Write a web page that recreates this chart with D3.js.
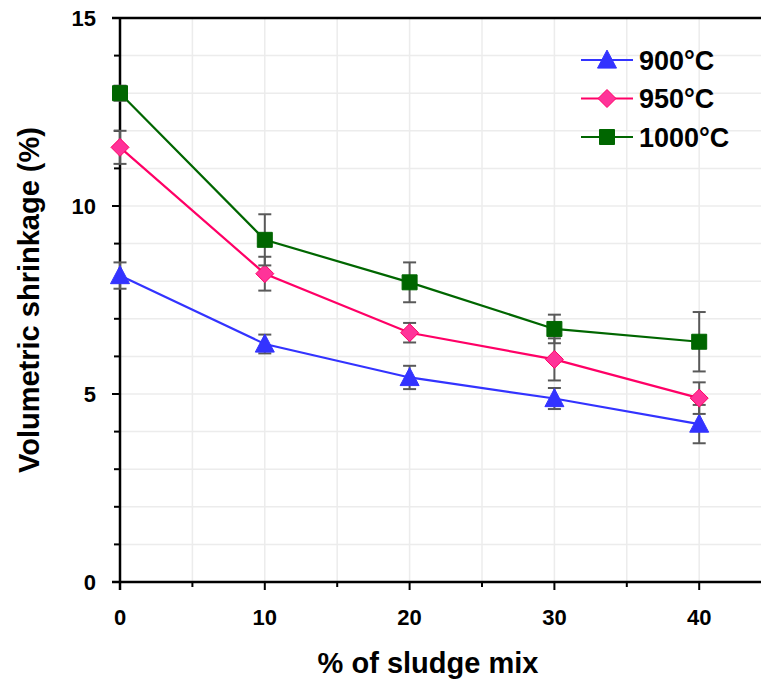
<!DOCTYPE html>
<html>
<head>
<meta charset="utf-8">
<script src="https://cdn.jsdelivr.net/npm/d3@7"></script>
<style>
  html, body { margin: 0; padding: 0; background: #fff; }
  svg { display: block; font-family: "Liberation Sans", Arial, sans-serif; font-weight: bold; }
</style>
</head>
<body>
<svg id="chart" width="761" height="681"></svg>
<script>
// Sludge content in the mix (%)
const sludge = [0, 10, 20, 30, 40];

// Volumetric shrinkage (%) and standard deviation per firing temperature
const shrink900 = [8.15, 6.33, 5.44, 4.88, 4.20];
const err900 = [0.35, 0.25, 0.31, 0.28, 0.51];
const shrink950 = [11.56, 8.20, 6.63, 5.92, 4.89];
const err950 = [0.44, 0.45, 0.26, 0.56, 0.42];
const shrink1000 = [13.00, 9.10, 7.97, 6.73, 6.39];
const err1000 = [0.20, 0.68, 0.53, 0.38, 0.79];

const seriesNames = ["900°C", "950°C", "1000°C"];
const xTicks = [0, 10, 20, 30, 40];
const yTicks = [0, 5, 10, 15];

const series = [
  { name: seriesNames[0], values: shrink900, errors: err900, line: "#3333ff", fill: "#3333ff", stroke: "#3333ff", shape: "triangle", size: 19 },
  { name: seriesNames[1], values: shrink950, errors: err950, line: "#ff0066", fill: "#ff3399", stroke: "#ff0066", shape: "diamond", size: 18 },
  { name: seriesNames[2], values: shrink1000, errors: err1000, line: "#006600", fill: "#006600", stroke: "#006600", shape: "square", size: 15 }
];

const svg = d3.select("#chart");

const x = d3.scaleLinear().domain([0, 45]).range([120, 771.6]);
const y = d3.scaleLinear().domain([0, 15]).range([582, 18]);

// Marker path builders centred on (0,0)
function markerPath(shape, s) {
  const h = s / 2;
  if (shape === "triangle") {
    const th = s * 0.95;
    return `M0,${-th * 0.55}L${h},${th * 0.45}L${-h},${th * 0.45}Z`;
  }
  if (shape === "diamond") {
    return `M0,${-h}L${h},0L0,${h}L${-h},0Z`;
  }
  return `M${-h},${-h}L${h},${-h}L${h},${h}L${-h},${h}Z`;
}

// Gridlines
const grid = svg.append("g");
grid.selectAll("line.hg")
  .data(d3.range(1, 15))
  .join("line")
  .attr("x1", x(0)).attr("x2", 761)
  .attr("y1", d => y(d)).attr("y2", d => y(d))
  .attr("stroke", "#ececec").attr("stroke-width", 1.5);
grid.selectAll("line.vg")
  .data(d3.range(5, 46, 5))
  .join("line")
  .attr("x1", d => x(d)).attr("x2", d => x(d))
  .attr("y1", y(0)).attr("y2", y(15))
  .attr("stroke", "#ececec").attr("stroke-width", 1.5);

// Axes
const axes = svg.append("g");
// y ticks (every 1, longer at multiples of 5)
axes.selectAll("line.yt")
  .data(d3.range(0, 16))
  .join("line")
  .attr("x1", d => x(0) - (d % 5 === 0 ? 8 : 6)).attr("x2", x(0))
  .attr("y1", d => y(d)).attr("y2", d => y(d))
  .attr("stroke", "#000").attr("stroke-width", 2);
// x ticks (every 5, longer at multiples of 10)
axes.selectAll("line.xt")
  .data(d3.range(0, 46, 5))
  .join("line")
  .attr("x1", d => x(d)).attr("x2", d => x(d))
  .attr("y1", y(0)).attr("y2", d => y(0) + (d % 10 === 0 ? 8 : 5))
  .attr("stroke", "#000").attr("stroke-width", 2);
// axis lines and top border
axes.append("line").attr("x1", x(0)).attr("x2", x(0)).attr("y1", y(15)).attr("y2", y(0) + 8)
  .attr("stroke", "#000").attr("stroke-width", 2.5);
axes.append("line").attr("x1", x(0) - 8).attr("x2", 761).attr("y1", y(0)).attr("y2", y(0))
  .attr("stroke", "#000").attr("stroke-width", 2.5);
axes.append("line").attr("x1", x(0) - 8).attr("x2", 761).attr("y1", y(15)).attr("y2", y(15))
  .attr("stroke", "#000").attr("stroke-width", 2.5);

// Tick labels
axes.selectAll("text.yl")
  .data(yTicks)
  .join("text")
  .attr("x", 96).attr("y", d => y(d)).attr("dy", "0.36em")
  .attr("text-anchor", "end").attr("font-size", 22).attr("fill", "#000")
  .text(d => d);
axes.selectAll("text.xl")
  .data(xTicks)
  .join("text")
  .attr("x", d => x(d)).attr("y", 625)
  .attr("text-anchor", "middle").attr("font-size", 22).attr("fill", "#000")
  .text(d => d);

// Axis titles
svg.append("text")
  .attr("transform", `translate(39,${(y(0) + y(15)) / 2}) rotate(-90)`)
  .attr("text-anchor", "middle").attr("font-size", 29).attr("fill", "#000")
  .text("Volumetric shrinkage (%)");
svg.append("text")
  .attr("x", 428).attr("y", 673)
  .attr("text-anchor", "middle").attr("font-size", 29).attr("fill", "#000")
  .text("% of sludge mix");

// Series: line, error bars, markers
const lineGen = d3.line().x(d => x(d[0])).y(d => y(d[1]));
series.forEach(s => {
  const pts = sludge.map((v, i) => [v, s.values[i], s.errors[i]]);
  const g = svg.append("g");
  g.append("path")
    .attr("d", lineGen(pts))
    .attr("fill", "none").attr("stroke", s.line).attr("stroke-width", 2.2);
  const eb = g.append("g").attr("stroke", "#595959").attr("stroke-width", 2);
  pts.forEach(p => {
    const cx = x(p[0]);
    const top = y(p[1] + p[2]), bot = y(p[1] - p[2]);
    eb.append("line").attr("x1", cx).attr("x2", cx).attr("y1", top).attr("y2", bot);
    eb.append("line").attr("x1", cx - 6.5).attr("x2", cx + 6.5).attr("y1", top).attr("y2", top);
    eb.append("line").attr("x1", cx - 6.5).attr("x2", cx + 6.5).attr("y1", bot).attr("y2", bot);
  });
  g.selectAll("path.m")
    .data(pts)
    .join("path")
    .attr("transform", d => `translate(${x(d[0])},${y(d[1])})`)
    .attr("d", markerPath(s.shape, s.size))
    .attr("fill", s.fill).attr("stroke", s.stroke).attr("stroke-width", 1);
});

// Legend
const legend = svg.append("g");
const legendRows = [60, 98.5, 137];
series.forEach((s, i) => {
  const ly = legendRows[i];
  legend.append("line").attr("x1", 581).attr("x2", 633).attr("y1", ly).attr("y2", ly)
    .attr("stroke", s.line).attr("stroke-width", 2.2);
  legend.append("path")
    .attr("transform", `translate(607,${ly})`)
    .attr("d", markerPath(s.shape, s.size))
    .attr("fill", s.fill).attr("stroke", s.stroke).attr("stroke-width", 1);
  legend.append("text")
    .attr("x", 639).attr("y", ly).attr("dy", "0.36em")
    .attr("font-size", 27).attr("fill", "#000")
    .text(s.name);
});
</script>
</body>
</html>
